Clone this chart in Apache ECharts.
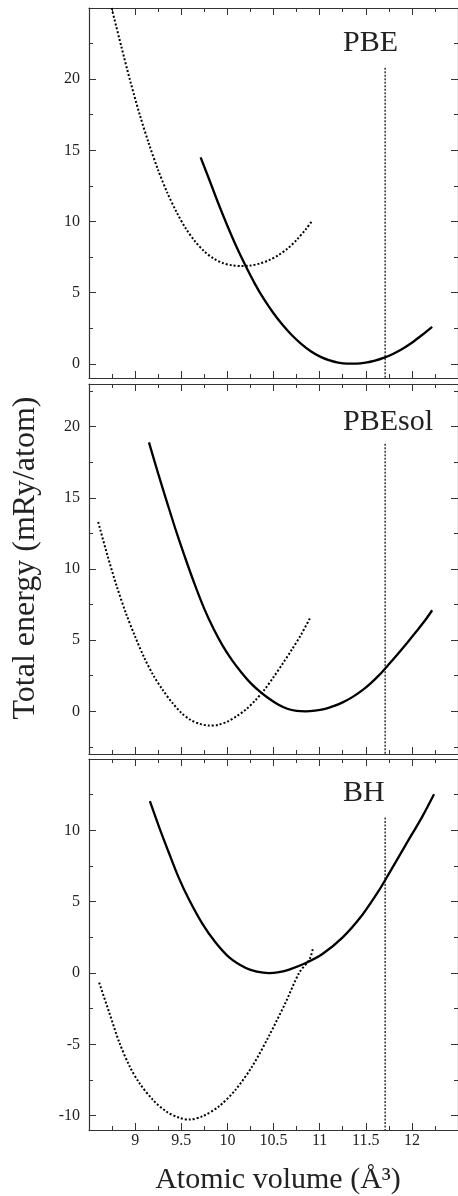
<!DOCTYPE html>
<html>
<head>
<meta charset="utf-8">
<title>Total energy vs atomic volume</title>
<script src="https://cdn.jsdelivr.net/npm/echarts@6/dist/echarts.min.js"></script>
<style>
  html, body { margin: 0; padding: 0; background: #fff; }
  #chart { width: 458px; height: 1196px; }
</style>
</head>
<body>
<div id="chart"></div>
<script>
// x axis (atomic volume)
const xMin = 8.5
const xMax = 12.5
const xLabels = [9, 9.5, 10, 10.5, 11, 11.5, 12]

// one entry per panel, top to bottom
const panelNames = ['PBE', 'PBEsol', 'BH']
const yMins = [-1, -3, -11]
const yMaxs = [25, 23, 15]
const yMajor = [
  [0, 5, 10, 15, 20],
  [0, 5, 10, 15, 20],
  [-10, -5, 0, 5, 10]
]
const yMinor = [
  [2.5, 7.5, 12.5, 17.5, 22.5],
  [-2.5, 2.5, 7.5, 12.5, 17.5, 22.5],
  [-7.5, -2.5, 2.5, 7.5, 12.5]
]

// reference volume (vertical dotted line) and where it starts in each panel
const refVolume = 11.71
const refTops = [20.8, 18.8, 10.9]

// PBE
const pbeSolid = [
  [9.71, 14.5], [9.8, 13.0], [9.9, 11.3], [10.0, 9.7], [10.1, 8.2],
  [10.2, 6.85], [10.3, 5.6], [10.4, 4.5], [10.5, 3.55], [10.6, 2.72],
  [10.7, 2.0], [10.8, 1.4], [10.9, 0.9], [11.0, 0.52], [11.1, 0.25],
  [11.2, 0.08], [11.3, 0.01], [11.4, 0.01], [11.5, 0.08], [11.6, 0.22],
  [11.7, 0.43], [11.8, 0.71], [11.9, 1.06], [12.0, 1.48], [12.1, 1.97],
  [12.22, 2.6]
]
const pbeDotted = [
  [8.745, 25.0], [8.85, 22.3], [8.95, 19.8], [9.05, 17.5], [9.15, 15.45],
  [9.25, 13.6], [9.35, 12.0], [9.45, 10.65], [9.55, 9.5], [9.65, 8.6],
  [9.75, 7.9], [9.85, 7.4], [9.95, 7.08], [10.05, 6.92], [10.15, 6.87],
  [10.25, 6.9], [10.35, 7.04], [10.45, 7.28], [10.55, 7.62], [10.65, 8.08],
  [10.75, 8.7], [10.85, 9.45], [10.92, 10.05]
]

// PBEsol
const pbesolSolid = [
  [9.15, 18.9], [9.25, 16.7], [9.35, 14.6], [9.45, 12.55], [9.55, 10.65],
  [9.65, 8.85], [9.75, 7.2], [9.85, 5.8], [9.95, 4.6], [10.05, 3.6],
  [10.15, 2.75], [10.25, 2.0], [10.35, 1.4], [10.45, 0.9], [10.55, 0.48],
  [10.65, 0.18], [10.75, 0.03], [10.85, 0.0], [10.95, 0.05], [11.05, 0.16],
  [11.15, 0.36], [11.25, 0.63], [11.35, 0.98], [11.45, 1.42], [11.55, 1.95],
  [11.65, 2.58], [11.75, 3.3], [11.85, 4.05], [11.95, 4.82], [12.05, 5.62],
  [12.15, 6.45], [12.22, 7.1]
]
const pbesolDotted = [
  [8.6, 13.3], [8.7, 10.95], [8.8, 8.8], [8.9, 6.9], [9.0, 5.25],
  [9.1, 3.75], [9.2, 2.5], [9.3, 1.5], [9.4, 0.62], [9.5, -0.1],
  [9.6, -0.6], [9.7, -0.88], [9.8, -1.0], [9.9, -0.95], [10.0, -0.72],
  [10.1, -0.35], [10.2, 0.12], [10.3, 0.75], [10.4, 1.5], [10.5, 2.4],
  [10.6, 3.35], [10.7, 4.35], [10.8, 5.4], [10.9, 6.6]
]

// BH
const bhSolid = [
  [9.16, 12.04], [9.26, 10.23], [9.37, 8.36], [9.47, 6.72], [9.58, 5.2],
  [9.73, 3.44], [9.87, 2.16], [10.02, 1.1], [10.2, 0.35], [10.32, 0.1],
  [10.45, 0], [10.56, 0.06], [10.67, 0.24], [10.85, 0.7], [11.03, 1.33],
  [11.25, 2.5], [11.46, 4.05], [11.64, 5.75], [11.75, 6.95], [11.93, 8.95],
  [12.11, 10.93], [12.24, 12.53]
]
const bhDotted = [
  [8.61, -0.67], [8.72, -2.78], [8.83, -4.89], [8.94, -6.53], [9.045, -7.7],
  [9.19, -8.87], [9.335, -9.69], [9.48, -10.15], [9.59, -10.27], [9.73, -10.04],
  [9.91, -9.34], [10.09, -8.17], [10.27, -6.53], [10.45, -4.42], [10.63, -2.08],
  [10.78, 0.03], [10.89, 0.96], [10.93, 1.8]
]

const solids = [pbeSolid, pbesolSolid, bhSolid]
const dotteds = [pbeDotted, pbesolDotted, bhDotted]

const serif = '"Liberation Serif", "Times New Roman", serif'
const axisColor = '#333'
const gridTops = [8, 384, 759]
const gridHeights = [370, 370, 371]

const chart = echarts.init(document.getElementById('chart'), null, { renderer: 'canvas' })

const grids = []
const xAxes = []
const yAxes = []
const series = []

panelNames.forEach((name, i) => {
  grids.push({ left: 89, top: gridTops[i], width: 370, height: gridHeights[i] })

  // bottom + top x axes, ticks pointing inward
  ;['bottom', 'top'].forEach(pos => {
    xAxes.push({
      type: 'value',
      gridIndex: i,
      position: pos,
      min: xMin,
      max: xMax,
      interval: 0.5,
      axisLine: { onZero: false, lineStyle: { color: axisColor, width: 1.2 } },
      axisTick: { inside: true, length: 7, lineStyle: { color: axisColor } },
      minorTick: { show: true, splitNumber: 2, length: 4, lineStyle: { color: axisColor } },
      splitLine: { show: false },
      axisLabel: (pos === 'bottom' && i === 2) ? {
        customValues: xLabels,
        margin: 3,
        color: '#222',
        fontSize: 16,
        fontFamily: serif
      } : { show: false }
    })
  })

  // left/right y axes: major ticks and a second axis for minor ticks
  ;['left', 'right'].forEach(pos => {
    yAxes.push({
      type: 'value',
      gridIndex: i,
      position: pos,
      min: yMins[i],
      max: yMaxs[i],
      axisLine: { onZero: false, lineStyle: { color: axisColor, width: 1.2 } },
      axisTick: { inside: true, length: 7, customValues: yMajor[i], lineStyle: { color: axisColor } },
      splitLine: { show: false },
      axisLabel: pos === 'left' ? {
        customValues: yMajor[i],
        margin: 9,
        color: '#222',
        fontSize: 16,
        fontFamily: serif
      } : { show: false }
    })
    yAxes.push({
      type: 'value',
      gridIndex: i,
      position: pos,
      min: yMins[i],
      max: yMaxs[i],
      axisLine: { show: false, onZero: false },
      axisTick: { inside: true, length: 4, customValues: yMinor[i], lineStyle: { color: axisColor } },
      splitLine: { show: false },
      axisLabel: { show: false }
    })
  })

  series.push({
    name: name + ' solid',
    type: 'line',
    xAxisIndex: 2 * i,
    yAxisIndex: 4 * i,
    data: solids[i],
    symbol: 'none',
    smooth: 0.3,
    lineStyle: { color: '#000', width: 2.3 }
  })
  series.push({
    name: name + ' dotted',
    type: 'line',
    xAxisIndex: 2 * i,
    yAxisIndex: 4 * i,
    data: dotteds[i],
    symbol: 'none',
    smooth: 0.3,
    lineStyle: { color: '#000', width: 2, type: [2, 2] }
  })
  series.push({
    name: name + ' ref',
    type: 'line',
    xAxisIndex: 2 * i,
    yAxisIndex: 4 * i,
    data: [[refVolume, refTops[i]], [refVolume, yMins[i]]],
    symbol: 'none',
    lineStyle: { color: '#000', width: 1.2, type: [2, 1.5] }
  })
})

const titleY = [43, 422, 793]
const graphics = panelNames.map((name, i) => ({
  type: 'text',
  x: 343,
  y: titleY[i],
  style: {
    text: name,
    font: '30px ' + serif,
    fill: '#222',
    align: 'left',
    verticalAlign: 'middle',
    textAlign: 'left',
    textVerticalAlign: 'middle'
  }
}))
graphics.push({
  type: 'text',
  x: 26,
  y: 558,
  rotation: Math.PI / 2,
  style: {
    text: 'Total energy (mRy/atom)',
    font: '32px ' + serif,
    fill: '#222',
    align: 'center',
    verticalAlign: 'middle',
    textAlign: 'center',
    textVerticalAlign: 'middle'
  }
})
graphics.push({
  type: 'text',
  x: 278,
  y: 1180,
  style: {
    text: 'Atomic volume (Å³)',
    font: '30px ' + serif,
    fill: '#222',
    align: 'center',
    verticalAlign: 'middle',
    textAlign: 'center',
    textVerticalAlign: 'middle'
  }
})

chart.setOption({
  animation: false,
  backgroundColor: '#fff',
  grid: grids,
  xAxis: xAxes,
  yAxis: yAxes,
  series,
  graphic: graphics
})
</script>
</body>
</html>
